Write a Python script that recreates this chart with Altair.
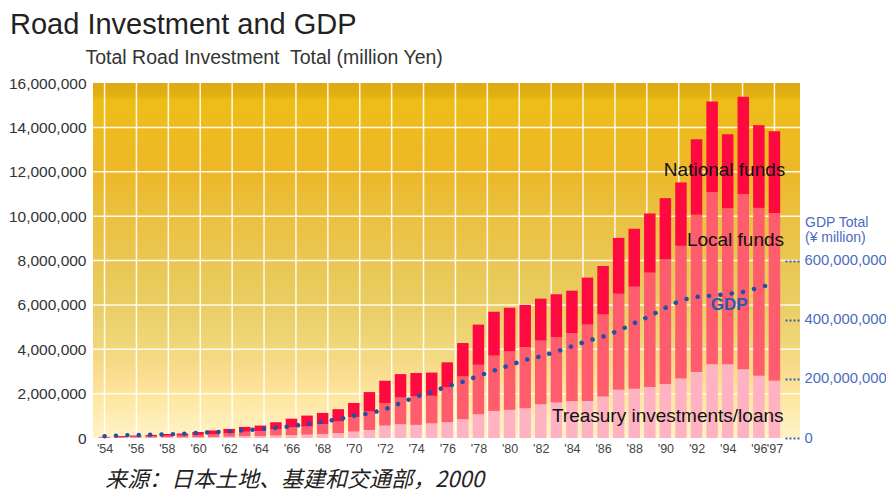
import altair as alt
import pandas as pd

# ---------------- data (million yen / GDP in ¥ million) ----------------
years = list(range(1954, 1998))

treasury = [10000, 10000, 20000, 20000, 30000, 30000, 40000, 50000, 60000, 80000,
            90000, 110000, 130000, 150000, 180000, 220000, 290000, 360000, 560000, 620000,
            590000, 660000, 710000, 850000, 1070000, 1220000, 1270000, 1340000, 1520000, 1600000,
            1660000, 1670000, 1870000, 2170000, 2220000, 2300000, 2430000, 2680000, 2980000, 3320000,
            3320000, 3100000, 2810000, 2580000]

local_funds = [20000, 40000, 40000, 60000, 70000, 80000, 100000, 130000, 160000, 200000,
               220000, 290000, 340000, 360000, 450000, 520000, 650000, 830000, 1010000, 1200000,
               1280000, 1240000, 1570000, 1920000, 2230000, 2490000, 2630000, 2750000, 2870000, 2940000,
               3070000, 3440000, 3700000, 4330000, 4600000, 5150000, 5620000, 5980000, 7080000, 7770000,
               7030000, 7900000, 7560000, 7560000]

national = [20000, 40000, 50000, 60000, 80000, 90000, 130000, 160000, 190000, 220000,
            250000, 310000, 400000, 500000, 500000, 560000, 640000, 880000, 1010000, 1060000,
            1060000, 1050000, 1130000, 1510000, 1810000, 1980000, 1970000, 1910000, 1890000, 1940000,
            1910000, 2120000, 2180000, 2520000, 2610000, 2670000, 2760000, 2860000, 3410000, 4080000,
            3340000, 4380000, 3730000, 3690000]

gdp = [6000000, 8500000, 10000000, 11000000, 12000000, 14000000, 17000000, 20000000, 22000000, 26000000,
       30000000, 34000000, 40000000, 47000000, 55000000, 63000000, 75000000, 83000000, 97000000, 118000000,
       140000000, 155000000, 175000000, 190000000, 210000000, 228000000, 246000000, 264000000, 276000000, 292000000,
       310000000, 328000000, 343000000, 363000000, 388000000, 412000000, 440000000, 466000000, 477000000, 481000000,
       487000000, 494000000, 508000000, 523000000]

series_names = ["Treasury investments/loans", "Local funds", "National funds"]
series_colors = ["#FFB3C2", "#FF5C6E", "#FF0A40"]

y_ticks = [0, 2000000, 4000000, 6000000, 8000000, 10000000, 12000000, 14000000, 16000000]
gdp_ticks = [0, 200000000, 400000000, 600000000]
x_ticks = list(range(1954, 1997, 2)) + [1997]

# ---------------- layout ----------------
W, H = 707, 355
xs = alt.Scale(domain=[1953.58, 1998.32], nice=False, zero=False)
ys = alt.Scale(domain=[0, 16000000], nice=False)
gs = alt.Scale(domain=[0, 1200000000], nice=False)

rows = []
for i, yr in enumerate(years):
    for k, (name, vals) in enumerate(zip(series_names, [treasury, local_funds, national])):
        rows.append({"year": yr, "series": name, "order": k, "value": vals[i]})
df = pd.DataFrame(rows)
gdf = pd.DataFrame({"year": years, "gdp": gdp})
one = pd.DataFrame({"a": [0]})

FONT = "Liberation Sans"

x_axis = alt.Axis(values=x_ticks, labelExpr="\"'\" + substring(toString(datum.value), 2)",
                  grid=False, ticks=False, domain=False, labelOverlap=False, labelFlush=False,
                  labelFontSize=12.5, labelColor="#444", labelPadding=4, title=None)

y_axis = alt.Axis(orient="left", values=y_ticks, labelExpr="format(datum.value, ',')",
                  grid=False, ticks=False, domain=False,
                  labelFontSize=15.5, labelColor="#333", labelPadding=7,
                  title="Total Road Investment\u00a0 Total (million Yen)", titleAngle=0,
                  titleX=-8, titleY=-20, titleAlign="left", titleBaseline="alphabetic",
                  titleFontSize=19.5, titleFontWeight="normal", titleColor="#333")

gdp_axis = alt.Axis(orient="right", values=gdp_ticks, labelExpr="format(datum.value, ',')",
                    grid=False, domain=False, zindex=1,
                    tickSize=15, tickWidth=2, tickColor="#3B5FB5", tickDash=[2, 2], offset=-15,
                    labelFontSize=14.8, labelColor="#4A6CC0", labelPadding=4, title=None)

gradient = alt.LinearGradient(
    gradient="linear", x1=0, x2=0, y1=0, y2=1,
    stops=[
        alt.GradientStop(color="#DDAA12", offset=0.0),
        alt.GradientStop(color="#E3B012", offset=0.035),
        alt.GradientStop(color="#EDBE16", offset=0.05),
        alt.GradientStop(color="#EEBB1E", offset=0.13),
        alt.GradientStop(color="#ECB82A", offset=0.26),
        alt.GradientStop(color="#EBBF3A", offset=0.34),
        alt.GradientStop(color="#EAC54E", offset=0.47),
        alt.GradientStop(color="#E9CC62", offset=0.61),
        alt.GradientStop(color="#EDD676", offset=0.72),
        alt.GradientStop(color="#F9DC8C", offset=0.81),
        alt.GradientStop(color="#FDE7A2", offset=0.89),
        alt.GradientStop(color="#FFF3C8", offset=1.0),
    ],
)

bg = alt.Chart(one).mark_rect(fill=gradient).encode(
    x=alt.value(0), x2=alt.value(W), y=alt.value(0), y2=alt.value(H)
)

hgrid = alt.Chart(pd.DataFrame({"v": y_ticks[1:-1]})).mark_rule(
    color="white", strokeWidth=1.5, opacity=0.9
).encode(y=alt.Y("v:Q", scale=ys, axis=None))

grid_years = [1954 + k * 43 / 21 for k in range(22)]
vgrid = alt.Chart(pd.DataFrame({"year": grid_years})).mark_rule(
    color="white", strokeWidth=1.5, opacity=0.9
).encode(x=alt.X("year:Q", scale=xs, axis=x_axis))

bars = alt.Chart(df).mark_bar(width=11.5).encode(
    x=alt.X("year:Q", scale=xs, axis=x_axis),
    y=alt.Y("value:Q", stack="zero", scale=ys, axis=y_axis),
    color=alt.Color("series:N", scale=alt.Scale(domain=series_names, range=series_colors), legend=None),
    order=alt.Order("order:Q", sort="ascending"),
)

ann = pd.DataFrame({
    "label": ["National funds", "Local funds", "Treasury investments/loans"],
    "year": [1993.8, 1994.5, 1990.15],
    "val": [12080000, 8920000, 990000],
})
ann_text = alt.Chart(ann).mark_text(font=FONT, fontSize=19, color="#111", baseline="middle").encode(
    x=alt.X("year:Q", scale=xs, axis=x_axis),
    y=alt.Y("val:Q", scale=ys, axis=None),
    text="label:N",
)

gdp_ann = alt.Chart(pd.DataFrame({"label": ["GDP"], "year": [1994.1], "val": [5990000]})).mark_text(
    font=FONT, fontSize=17, fontWeight="bold", color="#2A5AB0", baseline="middle"
).encode(
    x=alt.X("year:Q", scale=xs, axis=x_axis),
    y=alt.Y("val:Q", scale=ys, axis=None),
    text="label:N",
)

title = alt.Chart(one).mark_text(
    text="Road Investment and GDP", font=FONT, fontSize=29, color="#222", align="left", baseline="middle"
).encode(x=alt.value(-83), y=alt.value(-58))

source = alt.Chart(one).mark_text(
    text="来源：日本土地、基建和交通部，2000", font="Noto Sans CJK SC", fontSize=22, fontStyle="italic",
    color="#222", align="left", baseline="middle"
).encode(x=alt.value(12), y=alt.value(397))

gdp_title = alt.Chart(one).mark_text(
    text=["GDP Total", "(¥ million)"], font=FONT, fontSize=14, lineHeight=15, color="#4A6CC0",
    align="left", baseline="top"
).encode(x=alt.value(712), y=alt.value(133))

gdp_line = alt.Chart(gdf).mark_line(
    color="#2251A3", strokeWidth=4.5, strokeDash=[0.1, 11.3], strokeCap="round"
).encode(
    x=alt.X("year:Q", scale=xs, axis=x_axis),
    y=alt.Y("gdp:Q", scale=gs, axis=gdp_axis),
)

chart = alt.layer(
    bg, hgrid, vgrid, bars, gdp_line, ann_text, gdp_ann, title, source, gdp_title
).resolve_scale(y="independent").properties(
    width=W, height=H,
    padding={"left": 85, "top": 75, "right": 86, "bottom": 55},
    autosize=alt.AutoSizeParams(type="none"),
).configure_view(stroke=None).configure_axis(labelFont=FONT, titleFont=FONT).configure_text(font=FONT)

chart.save("out.html", embed_options={"renderer": "svg", "actions": False})
